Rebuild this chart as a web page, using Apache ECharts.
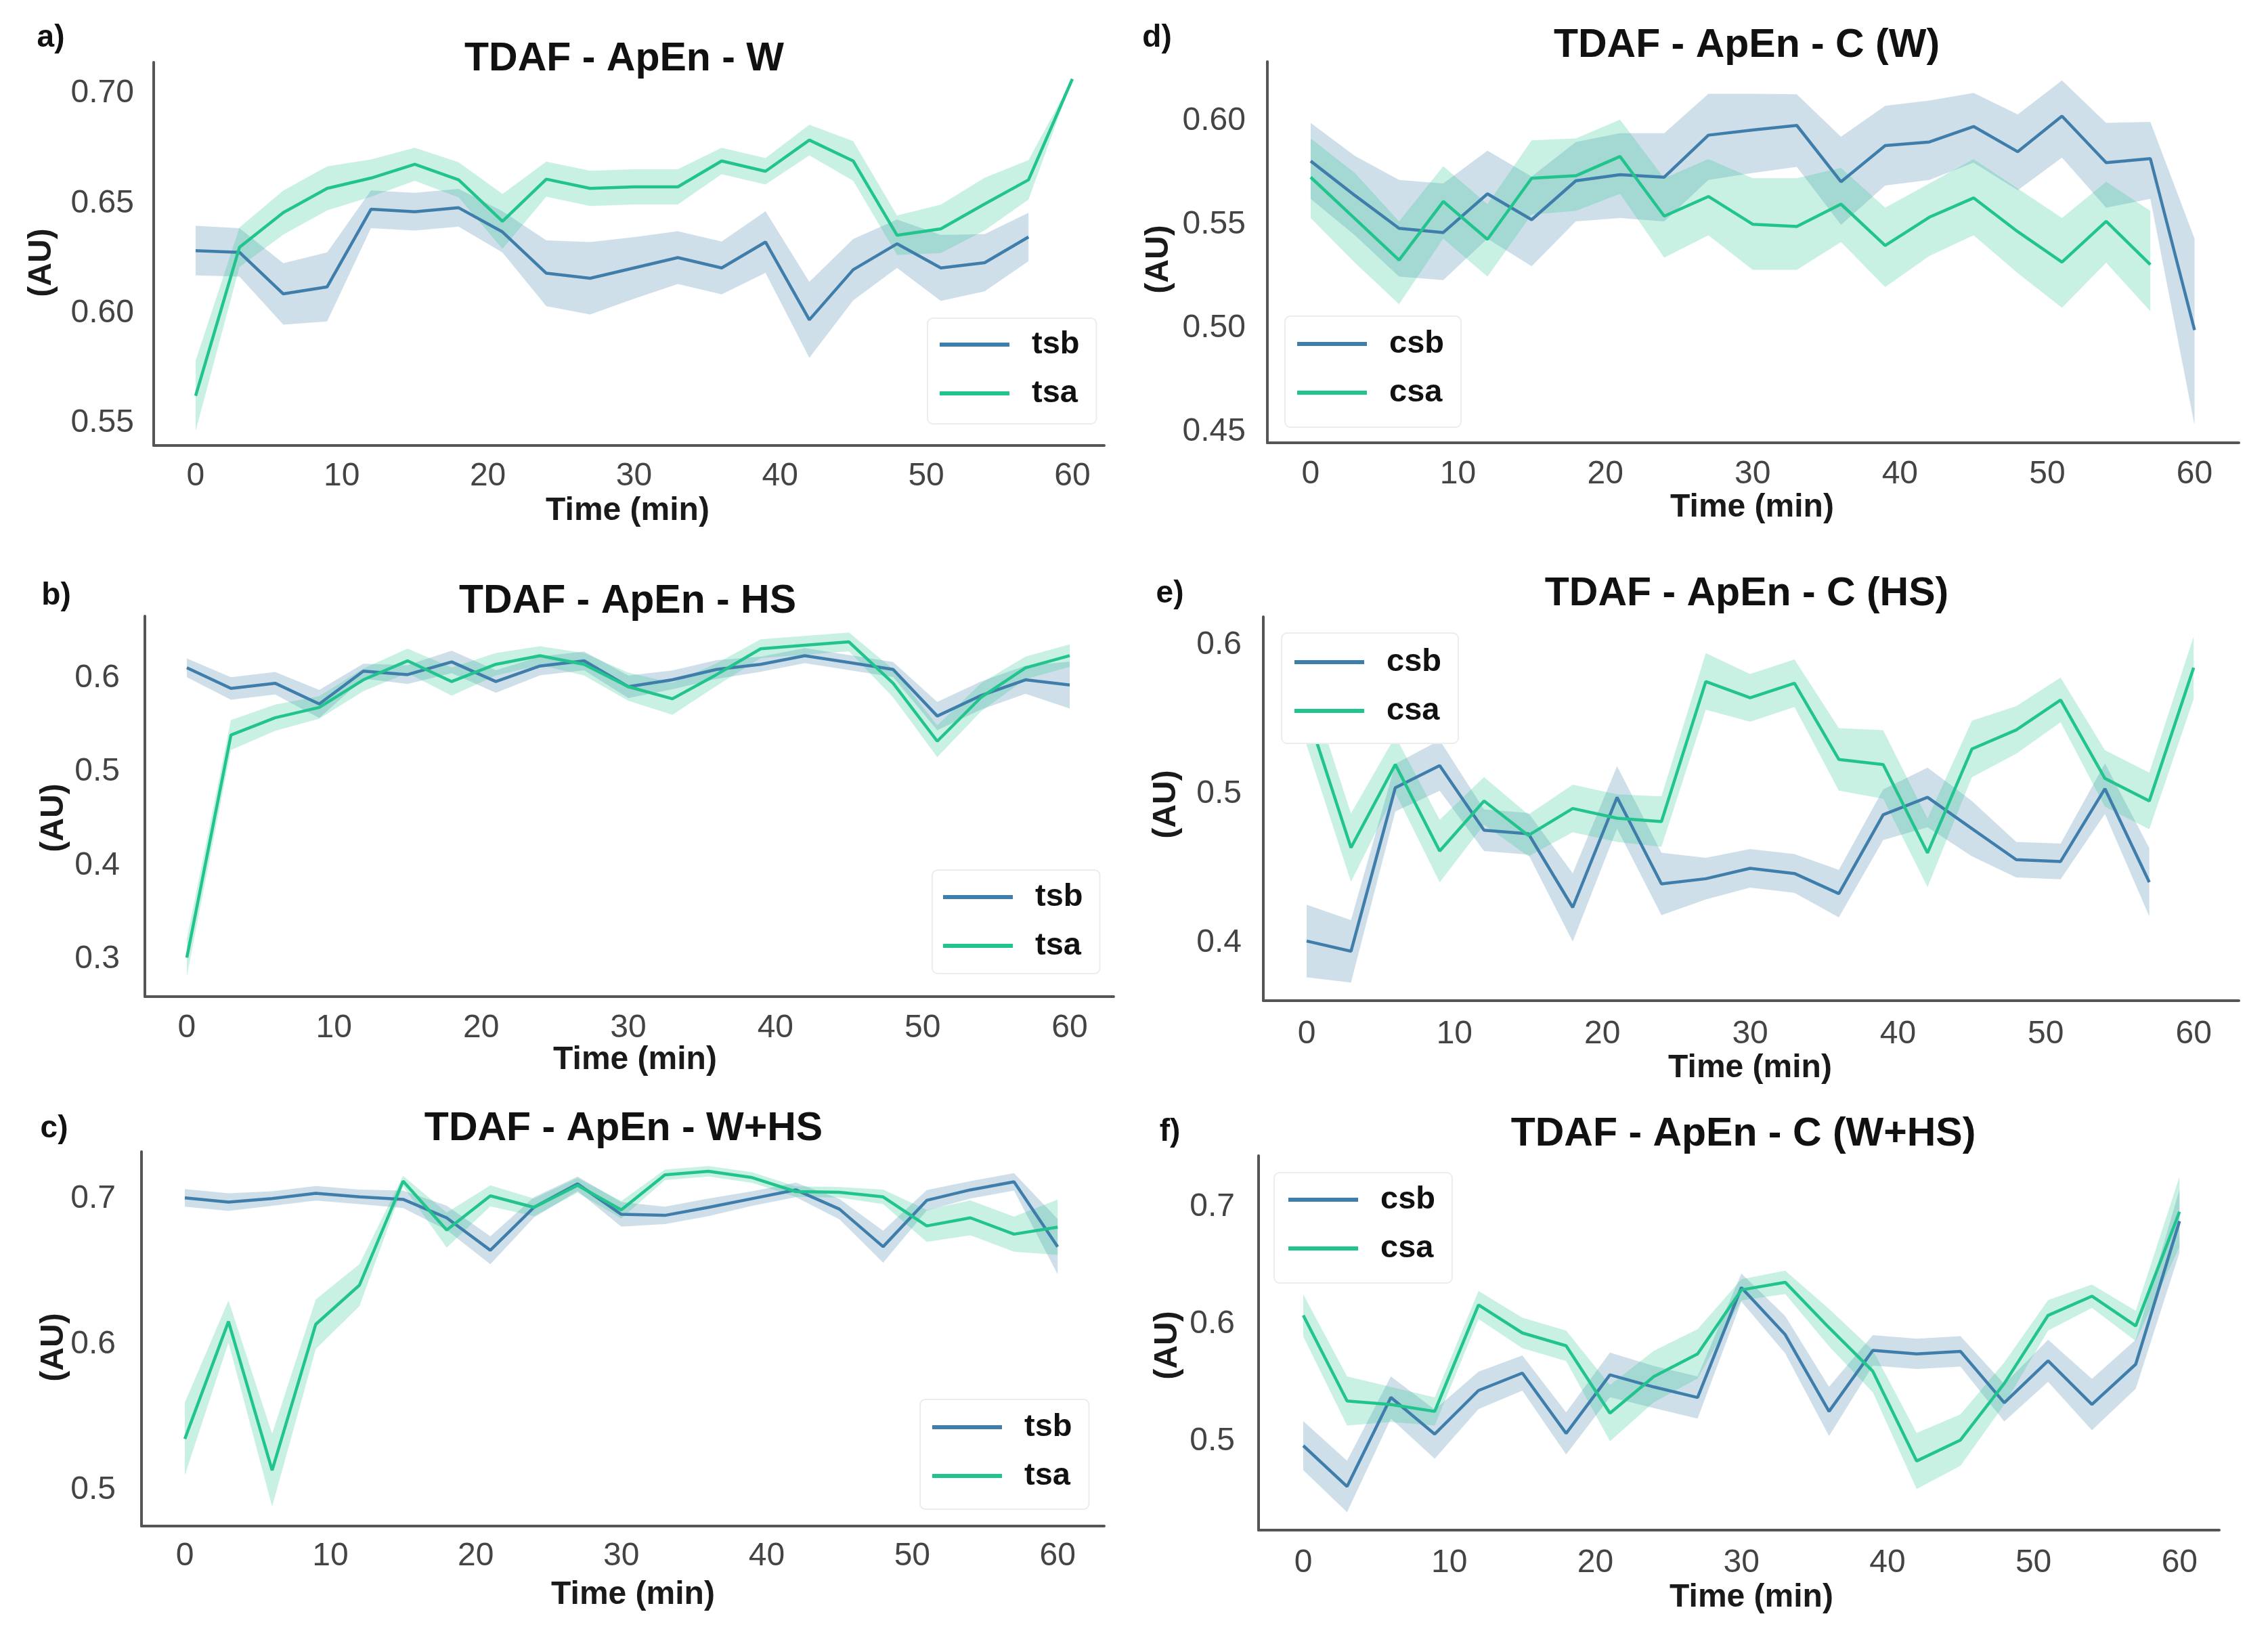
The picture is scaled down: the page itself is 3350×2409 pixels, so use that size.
<!DOCTYPE html>
<html>
<head>
<meta charset="utf-8">
<script src="https://cdn.jsdelivr.net/npm/echarts@6/dist/echarts.min.js"></script>
<style>
html,body{margin:0;padding:0;background:#fff;}
#chart{width:3350px;height:2409px;}
</style>
</head>
<body>
<div id="chart"></div>
<script>
// ---------- DATA ----------
const TIME = [0,3,6,9,12,15,18,21,24,27,30,33,36,39,42,45,48,51,54,57,60];

// a) TDAF - ApEn - W
const a_tsb_mean = [0.6285,0.6277,0.6088,0.6120,0.6473,0.6462,0.6480,0.6370,0.6182,0.6159,0.6206,0.6253,0.6206,0.6324,0.5970,0.6198,0.6316,0.6206,0.6230,0.6347];
const a_tsb_lo   = [0.6172,0.6167,0.5948,0.5963,0.6387,0.6376,0.6394,0.6276,0.6032,0.5994,0.6066,0.6133,0.6086,0.6184,0.5797,0.6058,0.6206,0.6056,0.6100,0.6237];
const a_tsb_hi   = [0.6398,0.6387,0.6228,0.6277,0.6559,0.6548,0.6566,0.6464,0.6332,0.6324,0.6346,0.6373,0.6326,0.6464,0.6143,0.6338,0.6426,0.6356,0.6360,0.6457];
const a_tsa_mean = [0.5624,0.6300,0.6458,0.6568,0.6615,0.6678,0.6607,0.6418,0.6610,0.6568,0.6575,0.6575,0.6693,0.6646,0.6788,0.6693,0.6355,0.6384,0.6497,0.6607,0.7066];
const a_tsa_lo   = [0.5464,0.6210,0.6358,0.6468,0.6530,0.6603,0.6527,0.6293,0.6530,0.6488,0.6495,0.6495,0.6633,0.6586,0.6718,0.6603,0.6265,0.6274,0.6377,0.6517,0.7066];
const a_tsa_hi   = [0.5784,0.6390,0.6558,0.6668,0.6700,0.6753,0.6687,0.6543,0.6690,0.6648,0.6655,0.6655,0.6753,0.6706,0.6858,0.6783,0.6445,0.6494,0.6617,0.6697,0.7066];

// b) TDAF - ApEn - HS
const b_tsb_mean = [0.611,0.589,0.5945,0.5724,0.6074,0.6037,0.6173,0.5963,0.6129,0.6184,0.5908,0.5982,0.6092,0.6147,0.6239,0.6166,0.6092,0.5595,0.5816,0.5982,0.5926];
const b_tsb_lo   = [0.601,0.577,0.5825,0.5574,0.5994,0.5937,0.6053,0.5843,0.6029,0.6084,0.5788,0.5882,0.5992,0.6067,0.6159,0.6086,0.6012,0.5445,0.5666,0.5832,0.5676];
const b_tsb_hi   = [0.621,0.601,0.6065,0.5874,0.6154,0.6137,0.6293,0.6083,0.6229,0.6284,0.6028,0.6082,0.6192,0.6227,0.6319,0.6246,0.6172,0.5745,0.5966,0.6132,0.6176];
const b_tsa_mean = [0.3019,0.5393,0.5577,0.5687,0.5982,0.6184,0.5963,0.6147,0.6239,0.6147,0.5908,0.5779,0.6037,0.6313,0.635,0.6386,0.5945,0.5327,0.5798,0.611,0.6239];
const b_tsa_lo   = [0.2819,0.5233,0.5437,0.5567,0.5862,0.6054,0.5813,0.6027,0.6139,0.6027,0.5758,0.5609,0.5917,0.6213,0.625,0.6286,0.5795,0.5157,0.5648,0.599,0.6119];
const b_tsa_hi   = [0.3219,0.5553,0.5717,0.5807,0.6102,0.6314,0.6113,0.6267,0.6339,0.6267,0.6058,0.5949,0.6157,0.6413,0.645,0.6486,0.6095,0.5497,0.5948,0.623,0.6359];

// c) TDAF - ApEn - W+HS
const c_tsb_mean = [0.7005,0.6976,0.70,0.7036,0.7012,0.6995,0.6868,0.6646,0.694,0.7101,0.6892,0.6885,0.694,0.70,0.706,0.6928,0.667,0.6988,0.706,0.7115,0.667];
const c_tsb_lo   = [0.6945,0.6916,0.695,0.6986,0.6962,0.6935,0.6784,0.655,0.687,0.7051,0.6808,0.6825,0.688,0.695,0.701,0.6858,0.656,0.6918,0.70,0.7055,0.648];
const c_tsb_hi   = [0.7065,0.7036,0.705,0.7086,0.7062,0.7055,0.6952,0.6742,0.701,0.7151,0.6976,0.6945,0.70,0.705,0.711,0.6998,0.678,0.7058,0.712,0.7175,0.686];
const c_tsa_mean = [0.5352,0.6157,0.5137,0.6138,0.6406,0.712,0.6784,0.7019,0.694,0.7091,0.6923,0.7163,0.7187,0.7144,0.7048,0.7043,0.7012,0.6813,0.6868,0.6756,0.6804];
const c_tsa_lo   = [0.5102,0.6013,0.4887,0.5968,0.6262,0.7084,0.6664,0.6947,0.688,0.7041,0.6863,0.7127,0.7151,0.7108,0.7012,0.7007,0.6962,0.6703,0.6748,0.6636,0.6614];
const c_tsa_hi   = [0.5602,0.6301,0.5387,0.6308,0.655,0.7156,0.6904,0.7091,0.70,0.7141,0.6983,0.7199,0.7223,0.718,0.7084,0.7079,0.7062,0.6923,0.6988,0.6876,0.6994];

// d) TDAF - ApEn - C (W)
const d_csb_mean = [0.5808,0.5642,0.5483,0.5463,0.565,0.5525,0.5713,0.5742,0.573,0.5933,0.5958,0.598,0.5708,0.5883,0.59,0.5975,0.5853,0.6025,0.58,0.582,0.4992];
const d_csb_lo   = [0.5625,0.545,0.525,0.5233,0.5433,0.530,0.5517,0.5533,0.5517,0.5717,0.575,0.578,0.550,0.569,0.5717,0.580,0.5667,0.5825,0.5583,0.5625,0.4533];
const d_csb_hi   = [0.5992,0.5833,0.5717,0.570,0.5858,0.5733,0.590,0.5942,0.5942,0.6133,0.6133,0.613,0.5925,0.6075,0.610,0.6137,0.6033,0.6197,0.5992,0.5997,0.5433];
const d_csa_mean = [0.573,0.553,0.533,0.5613,0.543,0.5725,0.5737,0.583,0.5542,0.5637,0.5503,0.5492,0.56,0.54,0.5537,0.563,0.5467,0.532,0.5517,0.5308];
const d_csa_lo   = [0.5533,0.5317,0.5117,0.5433,0.525,0.555,0.5567,0.565,0.5342,0.545,0.5283,0.5283,0.5417,0.52,0.535,0.545,0.5267,0.51,0.5317,0.5083];
const d_csa_hi   = [0.5917,0.575,0.5517,0.5783,0.56,0.5908,0.5917,0.6008,0.5725,0.5817,0.5725,0.5725,0.5775,0.5583,0.57,0.5817,0.5675,0.5533,0.5708,0.5567];

// e) TDAF - ApEn - C (HS)
const e_csb_mean = [0.4011,0.3942,0.5042,0.5191,0.4756,0.4732,0.4237,0.4977,0.4395,0.443,0.45,0.4465,0.433,0.486,0.4977,0.4767,0.4558,0.4546,0.5035,0.4407];
const e_csb_lo   = [0.3767,0.3732,0.4882,0.5021,0.4616,0.4592,0.4007,0.4767,0.4185,0.429,0.437,0.4335,0.417,0.469,0.4777,0.4581,0.4438,0.4426,0.4865,0.4177];
const e_csb_hi   = [0.4255,0.4152,0.5202,0.5361,0.4896,0.4872,0.4467,0.5187,0.4605,0.457,0.463,0.4595,0.449,0.503,0.5177,0.4953,0.4678,0.4666,0.5205,0.4637];
const e_csa_mean = [0.5558,0.4639,0.5198,0.4616,0.4953,0.4721,0.4902,0.4837,0.4814,0.5756,0.5646,0.5744,0.5232,0.5198,0.4604,0.5302,0.543,0.5632,0.5104,0.4953,0.5849];
const e_csa_lo   = [0.5328,0.4409,0.5008,0.4406,0.4793,0.4581,0.4742,0.4677,0.4644,0.5566,0.5486,0.5584,0.5022,0.4968,0.4374,0.5112,0.527,0.5482,0.4914,0.4763,0.5639];
const e_csa_hi   = [0.5788,0.4869,0.5388,0.4826,0.5113,0.4861,0.5062,0.4997,0.4984,0.5946,0.5806,0.5904,0.5442,0.5428,0.4834,0.5492,0.559,0.5782,0.5294,0.5143,0.6059];

// f) TDAF - ApEn - C (W+HS)
const f_csb_mean = [0.4961,0.4612,0.5373,0.506,0.5433,0.5582,0.5066,0.5567,0.5463,0.5373,0.6313,0.591,0.5254,0.5776,0.5746,0.5767,0.5328,0.5687,0.5313,0.5657,0.6881];
const f_csb_lo   = [0.4751,0.4392,0.5193,0.485,0.5273,0.5432,0.4886,0.5377,0.5283,0.5193,0.6193,0.575,0.5044,0.5646,0.5616,0.5637,0.5168,0.5507,0.5093,0.5447,0.6611];
const f_csb_hi   = [0.5171,0.4832,0.5553,0.527,0.5593,0.5732,0.5246,0.5757,0.5643,0.5553,0.6433,0.607,0.5464,0.5906,0.5876,0.5897,0.5488,0.5867,0.5533,0.5867,0.7151];
const f_csa_mean = [0.6075,0.5343,0.5313,0.5254,0.6164,0.5925,0.5815,0.5239,0.5552,0.5746,0.6293,0.6358,0.597,0.5597,0.483,0.5009,0.5493,0.6075,0.6239,0.5985,0.6961];
const f_csa_lo   = [0.5895,0.5133,0.5163,0.5134,0.6044,0.5795,0.5685,0.4999,0.5332,0.5536,0.6203,0.6258,0.581,0.5417,0.459,0.4789,0.5313,0.5945,0.6139,0.5855,0.6661];
const f_csa_hi   = [0.6255,0.5553,0.5463,0.5374,0.6284,0.6055,0.5945,0.5479,0.5772,0.5956,0.6383,0.6458,0.613,0.5777,0.507,0.5229,0.5673,0.6205,0.6339,0.6115,0.7261];

// ---------- STYLE / LAYOUT ----------
const FONT = "'Liberation Sans', Arial, Helvetica, sans-serif";
const BLUE = '#3f7eab';
const GREEN = '#22c48e';
const AXIS_COLOR = '#555';
const TICK_COLOR = '#444';

const PANELS = [
  { letter:'a)', title:'TDAF - ApEn - W', names:['tsb','tsa'],
    b:[a_tsb_mean,a_tsb_lo,a_tsb_hi], g:[a_tsa_mean,a_tsa_lo,a_tsa_hi],
    grid:{left:227, top:92, width:1404, height:566}, xr:[-2.87,62.18], yr:[0.5398,0.7142], ystep:0.05, ydec:2,
    ylm:29, xlm:22, titleXY:[922,88], letterXY:[75,56], auXY:[62,388], timeXY:[927,755],
    legend:{left:1370, top:470, pad:[14,25,20,18]} },
  { letter:'b)', title:'TDAF - ApEn - HS', names:['tsb','tsa'],
    b:[b_tsb_mean,b_tsb_lo,b_tsb_hi], g:[b_tsa_mean,b_tsa_lo,b_tsa_hi],
    grid:{left:214, top:910, width:1431, height:562}, xr:[-2.85,62.99], yr:[0.2603,0.6661], ystep:0.1, ydec:1,
    ylm:37, xlm:23, titleXY:[927,889], letterXY:[83,880], auXY:[80,1208], timeXY:[938,1566],
    legend:{left:1377, top:1285, pad:[15,25,16,16]} },
  { letter:'c)', title:'TDAF - ApEn - W+HS', names:['tsb','tsa'],
    b:[c_tsb_mean,c_tsb_lo,c_tsb_hi], g:[c_tsa_mean,c_tsa_lo,c_tsa_hi],
    grid:{left:209, top:1701, width:1422, height:553}, xr:[-2.98,63.2], yr:[0.4754,0.7322], ystep:0.1, ydec:1,
    ylm:38, xlm:21, titleXY:[921,1668], letterXY:[80,1667], auXY:[80,1990], timeXY:[935,2356],
    legend:{left:1359, top:2067, pad:[16,25,24,18]} },
  { letter:'d)', title:'TDAF - ApEn - C (W)', names:['csb','csa'],
    b:[d_csb_mean,d_csb_lo,d_csb_hi], g:[d_csa_mean,d_csa_lo,d_csa_hi],
    grid:{left:1872, top:91, width:1435, height:563}, xr:[-2.94,63.01], yr:[0.4448,0.6288], ystep:0.05, ydec:2,
    ylm:32, xlm:23, titleXY:[2580,68], letterXY:[1709,56], auXY:[1712,383], timeXY:[2588,750],
    legend:{left:1898, top:467, pad:[16,25,26,18]} },
  { letter:'e)', title:'TDAF - ApEn - C (HS)', names:['csb','csa'],
    b:[e_csb_mean,e_csb_lo,e_csb_hi], g:[e_csa_mean,e_csa_lo,e_csa_hi],
    grid:{left:1866, top:911, width:1441, height:567}, xr:[-2.93,63.06], yr:[0.361,0.6191], ystep:0.1, ydec:1,
    ylm:32, xlm:26, titleXY:[2580,878], letterXY:[1728,877], auXY:[1723,1188], timeXY:[2585,1578],
    legend:{left:1893, top:935, pad:[18,25,23,19]} },
  { letter:'f)', title:'TDAF - ApEn - C (W+HS)', names:['csb','csa'],
    b:[f_csb_mean,f_csb_lo,f_csb_hi], g:[f_csa_mean,f_csa_lo,f_csa_hi],
    grid:{left:1859, top:1707, width:1419, height:553}, xr:[-3.06,62.72], yr:[0.4239,0.744], ystep:0.1, ydec:1,
    ylm:35, xlm:25, titleXY:[2575,1676], letterXY:[1728,1672], auXY:[1725,1987], timeXY:[2587,2360],
    legend:{left:1882, top:1732, pad:[15,25,26,21]} }
];

function stepFormatter(step, dec) {
  return function (v) {
    const k = v / step;
    return Math.abs(k - Math.round(k)) < 1e-6 ? v.toFixed(dec) : '';
  };
}

function hexToRgba(hex, a) {
  const n = parseInt(hex.slice(1), 16);
  return 'rgba(' + ((n >> 16) & 255) + ',' + ((n >> 8) & 255) + ',' + (n & 255) + ',' + a + ')';
}

function bandSeries(idx, name, lo, hi, color) {
  const data = lo.map((v, i) => [TIME[i], v, hi[i]]);
  return {
    type: 'custom', name: name, xAxisIndex: idx, yAxisIndex: idx, silent: true,
    data: data, encode: { x: 0, y: [1, 2] },
    renderItem: function (params, api) {
      if (params.dataIndex !== 0) return null;
      const pts = [];
      for (let i = 0; i < data.length; i++) pts.push(api.coord([data[i][0], data[i][2]]));
      for (let i = data.length - 1; i >= 0; i--) pts.push(api.coord([data[i][0], data[i][1]]));
      return { type: 'polygon', shape: { points: pts }, style: { fill: hexToRgba(color, 0.25), stroke: null } };
    }
  };
}

function lineSeries(idx, name, mean, color) {
  return {
    type: 'line', name: name, xAxisIndex: idx, yAxisIndex: idx,
    data: mean.map((v, i) => [TIME[i], v]),
    showSymbol: false, symbol: 'none', silent: true,
    lineStyle: { color: color, width: 4.5 }, itemStyle: { color: color }
  };
}

const grids = [], xAxes = [], yAxes = [], series = [], legends = [], graphics = [];

PANELS.forEach((p, i) => {
  grids.push(Object.assign({ containLabel: false }, p.grid));
  xAxes.push({
    type: 'value', gridIndex: i, min: p.xr[0], max: p.xr[1], minInterval: 10, maxInterval: 10,
    splitLine: { show: false }, axisTick: { show: false },
    axisLine: { show: true, onZero: false, lineStyle: { color: AXIS_COLOR, width: 4 } },
    axisLabel: { fontSize: 48, color: TICK_COLOR, fontFamily: FONT, margin: p.xlm, formatter: stepFormatter(10, 0) }
  });
  yAxes.push({
    type: 'value', gridIndex: i, min: p.yr[0], max: p.yr[1], minInterval: p.ystep, maxInterval: p.ystep,
    splitLine: { show: false }, axisTick: { show: false },
    axisLine: { show: true, onZero: false, lineStyle: { color: AXIS_COLOR, width: 4 } },
    axisLabel: { fontSize: 48, color: TICK_COLOR, fontFamily: FONT, margin: p.ylm, formatter: stepFormatter(p.ystep, p.ydec) }
  });
  series.push(bandSeries(i, p.names[0] + '-ci-' + i, p.b[1], p.b[2], BLUE));
  series.push(lineSeries(i, p.names[0], p.b[0], BLUE));
  series.push(bandSeries(i, p.names[1] + '-ci-' + i, p.g[1], p.g[2], GREEN));
  series.push(lineSeries(i, p.names[1], p.g[0], GREEN));

  legends.push({
    orient: 'vertical', left: p.legend.left, top: p.legend.top, padding: p.legend.pad,
    data: p.names, icon: 'rect', itemWidth: 103, itemHeight: 6, itemGap: 22,
    selectedMode: false,
    backgroundColor: '#ffffff', borderColor: '#ececec', borderWidth: 2, borderRadius: 8,
    textStyle: { fontSize: 47, fontWeight: 'bold', color: '#111', fontFamily: FONT, lineHeight: 50, padding: [0, 0, 0, 28] }
  });

  const txt = (x, y, text, size, weight, color, rot) => ({
    type: 'text', x: x, y: y, rotation: rot || 0, silent: true,
    style: { text: text, fontSize: size, fontWeight: weight, fontFamily: FONT, fill: color,
             textAlign: 'center', textVerticalAlign: 'middle', align: 'center', verticalAlign: 'middle' }
  });
  graphics.push(txt(p.titleXY[0], p.titleXY[1], p.title, 59, 'bold', '#111'));
  graphics.push(txt(p.letterXY[0], p.letterXY[1], p.letter, 46, 'bold', '#111'));
  graphics.push(txt(p.auXY[0], p.auXY[1], '(AU)', 48, 'bold', '#1a1a1a', Math.PI / 2));
  graphics.push(txt(p.timeXY[0], p.timeXY[1], 'Time (min)', 48, 'bold', '#1a1a1a'));
});

const chart = echarts.init(document.getElementById('chart'), null, { renderer: 'canvas' });
chart.setOption({
  animation: false,
  backgroundColor: '#ffffff',
  grid: grids, xAxis: xAxes, yAxis: yAxes,
  legend: legends,
  series: series,
  graphic: { elements: graphics }
});
</script>
</body>
</html>
